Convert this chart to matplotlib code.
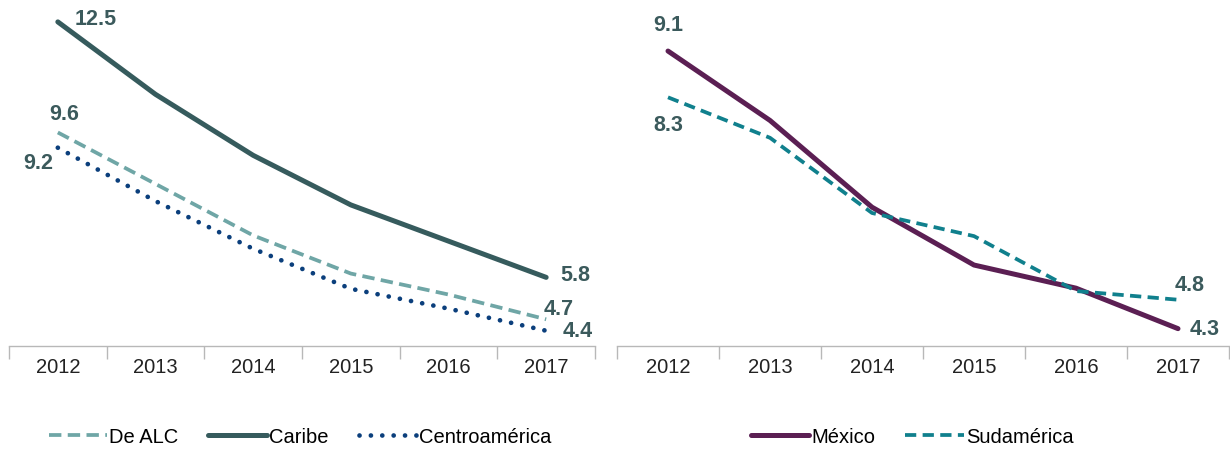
import matplotlib
matplotlib.use("Agg")
import matplotlib.pyplot as plt

years = ["2012", "2013", "2014", "2015", "2016", "2017"]
de_alc = [9.6, 8.25, 6.9, 5.9, 5.35, 4.7]
caribe = [12.5, 10.6, 9.0, 7.7, 6.75, 5.8]
centro = [9.2, 7.8, 6.55, 5.5, 4.98, 4.4]
mexico = [9.1, 7.9, 6.4, 5.4, 5.0, 4.3]
sudam = [8.3, 7.6, 6.3, 5.9, 4.95, 4.8]

c_alc = "#6fa6a6"
c_car = "#365b5d"
c_cen = "#0b3f7c"
c_mex = "#5b1f53"
c_sud = "#10808d"
c_lab = "#3b5a5c"

plt.rcParams['font.family'] = ['Liberation Sans', 'DejaVu Sans']

fig = plt.figure(figsize=(12.3, 4.52), dpi=100)
ax1 = fig.add_axes([9/1230, 1-347/452, 586/1230, 347/452])
ax2 = fig.add_axes([617/1230, 1-347/452, 612/1230, 347/452])

x = list(range(len(years)))

l_alc, = ax1.plot(x, de_alc, color=c_alc, lw=2.7, dashes=(3.3, 1.7), label="De ALC")
l_car, = ax1.plot(x, caribe, color=c_car, lw=3.6, solid_capstyle='round', label="Caribe")
l_cen, = ax1.plot(x, centro, color=c_cen, lw=3.4, dashes=(0.01, 2.4), dash_capstyle='round', label="Centroamérica")
ax1.set_ylim(4, 13.1)

l_mex, = ax2.plot(x, mexico, color=c_mex, lw=3.6, solid_capstyle='round', label="México")
l_sud, = ax2.plot(x, sudam, color=c_sud, lw=2.7, dashes=(3.0, 1.7), label="Sudamérica")
ax2.set_ylim(4, 10.0)

for ax in (ax1, ax2):
    ax.set_xlim(-0.5, 5.5)
    for s in ("top", "right", "left"):
        ax.spines[s].set_visible(False)
    ax.spines["bottom"].set_color("#b8b8b8")
    ax.spines["bottom"].set_linewidth(1.0)
    ax.set_yticks([])
    ax.set_xticks(x)
    ax.set_xticklabels(years, fontsize=14.5, color="#222222")
    ax.tick_params(axis='x', which='major', length=0, pad=8)
    ax.set_xticks([i - 0.5 for i in range(len(years) + 1)], minor=True)
    ax.tick_params(axis='x', which='minor', length=9, color="#b8b8b8", width=1.0)
    ax.patch.set_alpha(0)

lab = dict(fontsize=15.5, fontweight='bold', color=c_lab)

def annot(ax, xi, yi, txt, dx, dy, ha='left', va='center'):
    ax.annotate(txt, (xi, yi), xytext=(dx, dy), textcoords='offset pixels',
                ha=ha, va=va, **lab)

annot(ax1, 0, caribe[0], "12.5", 17, 3)
annot(ax1, 5, caribe[5], "5.8", 14, 3)
annot(ax1, 0, de_alc[0], "9.6", 6, 19, ha='center')
annot(ax1, 5, de_alc[5], "4.7", -3, 11)
annot(ax1, 5, centro[5], "4.4", 16, 0)
annot(ax1, 0, centro[0], "9.2", -5, -15, ha='right')

annot(ax2, 0, mexico[0], "9.1", 0, 27, ha='center')
annot(ax2, 0, sudam[0], "8.3", 0, -27, ha='center')
annot(ax2, 5, sudam[5], "4.8", -3, 15)
annot(ax2, 5, mexico[5], "4.3", 12, 0)

leg_kw = dict(loc='center', frameon=False, fontsize=14.5, handlelength=2.9,
              handletextpad=0.1, columnspacing=1.5, borderaxespad=0)
fig.legend(handles=[l_alc, l_car, l_cen], ncol=3,
           bbox_to_anchor=(300/1230, 1-438/452), **leg_kw)
fig.legend(handles=[l_mex, l_sud], ncol=2,
           bbox_to_anchor=(912/1230, 1-438/452), **leg_kw)

fig.savefig("out.png", dpi=100)
